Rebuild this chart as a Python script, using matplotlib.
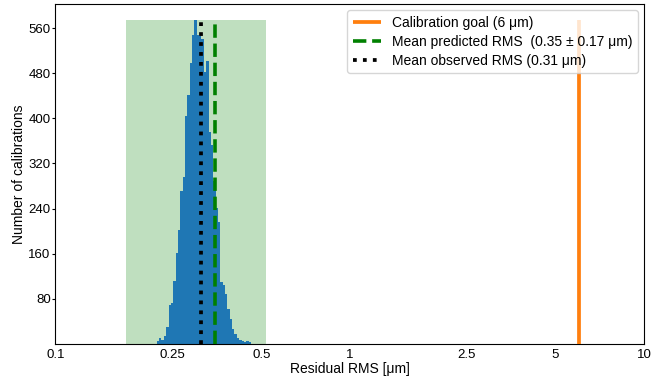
import matplotlib
matplotlib.use("Agg")
import matplotlib.pyplot as plt
import numpy as np

plt.rcParams['font.family'] = ['Liberation Sans', 'DejaVu Sans']
plt.rcParams['font.size'] = 10

# histogram of residual RMS, log bins (250 per two decades), bins 43..82
bin_first = 43
counts = [6, 11, 7, 14, 30, 69, 73, 112, 161, 202,
          271, 296, 404, 442, 499, 547, 574, 548, 546, 540,
          482, 501, 375, 352, 289, 241, 216, 110, 104, 89,
          62, 44, 27, 18, 11, 7, 6, 4, 5, 3]

goal = 6.0
pred_mean = 0.347
pred_std = 0.173
obs_mean = 0.311

xticks = [0.1, 0.25, 0.5, 1, 2.5, 5, 10]
xticklabels = ["0.1", "0.25", "0.5", "1", "2.5", "5", "10"]
yticks = [80, 160, 240, 320, 400, 480, 560]


def main():
    all_edges = np.logspace(-1, 1, 251)
    edges = all_edges[bin_first:bin_first + len(counts) + 1]
    top = max(counts)

    fig, ax = plt.subplots(figsize=(6.71, 3.82), dpi=100)
    fig.subplots_adjust(left=0.0827, right=0.96, bottom=0.0995, top=0.9895)

    ax.fill_between([pred_mean - pred_std, pred_mean + pred_std], 0, top,
                    color="green", alpha=0.25, linewidth=0, zorder=1)
    ax.hist(edges[:-1], bins=edges, weights=counts, color="C0", zorder=2)

    ax.vlines(goal, 0, top, color="C1", linewidth=2.7, zorder=3,
              label="Calibration goal (6 μm)")
    ax.vlines(pred_mean, 0, top, color="green", linestyle="--", linewidth=2.6,
              zorder=3, label="Mean predicted RMS  (0.35 ± 0.17 μm)")
    ax.vlines(obs_mean, 0, top, color="black", linestyle=":", linewidth=2.7,
              zorder=3, label="Mean observed RMS (0.31 μm)")

    ax.set_xscale("log")
    ax.set_xlim(0.1, 10)
    ax.set_ylim(0, top * 1.05)
    ax.set_xticks(xticks)
    ax.set_xticklabels(xticklabels)
    ax.minorticks_off()
    ax.set_yticks(yticks)
    ax.tick_params(axis="x", length=0, labelsize=9.5)
    ax.tick_params(axis="y", length=2.5, pad=1, labelsize=9.5)

    ax.set_xlabel("Residual RMS [μm]", labelpad=1)
    ax.set_ylabel("Number of calibrations", labelpad=1.5)
    ax.legend(loc="upper right", fontsize=10, labelspacing=0.35,
              borderaxespad=0.45)

    fig.savefig("out.png", dpi=100)


if __name__ == '__main__':
    main()
